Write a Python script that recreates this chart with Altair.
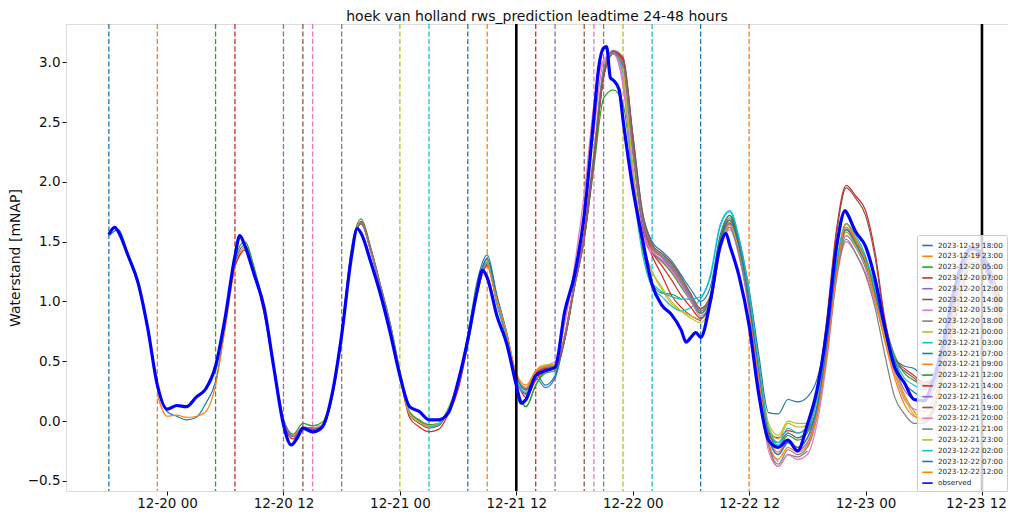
import altair as alt
import pandas as pd

# ---------------- data ----------------
forecast_labels = [
    "2023-12-19 18:00", "2023-12-19 23:00", "2023-12-20 05:00", "2023-12-20 07:00",
    "2023-12-20 12:00", "2023-12-20 14:00", "2023-12-20 15:00", "2023-12-20 18:00",
    "2023-12-21 00:00", "2023-12-21 03:00", "2023-12-21 07:00", "2023-12-21 09:00",
    "2023-12-21 12:00", "2023-12-21 14:00", "2023-12-21 16:00", "2023-12-21 19:00",
    "2023-12-21 20:00", "2023-12-21 21:00", "2023-12-21 23:00", "2023-12-22 02:00",
    "2023-12-22 07:00", "2023-12-22 12:00",
]
# forecast issue times, hours relative to 2023-12-20 00:00
forecast_hours = [-6, -1, 5, 7, 12, 14, 15, 18, 24, 27, 31, 33, 36, 38, 40, 43, 44, 45, 47, 50, 55, 60]

tab10 = ["#1f77b4", "#ff7f0e", "#2ca02c", "#d62728", "#9467bd",
         "#8c564b", "#e377c2", "#7f7f7f", "#bcbd22", "#17becf"]

# hourly predicted water levels, starting at each forecast's issue hour
p00 = [1.55, 1.60, 1.38, 1.14, 0.76, 0.30, 0.08, 0.04, 0.01, 0.03, 0.15, 0.33, 0.80, 1.32, 1.47, 1.25, 0.92, 0.46, 0.00, -0.13, -0.06, -0.07, -0.04, 0.20, 0.72, 1.40, 1.65, 1.42, 1.12, 0.80, 0.40, 0.07, 0.00, -0.04, -0.02, 0.10, 0.32, 0.72, 1.18, 1.39, 1.05, 0.74, 0.36, 0.26, 0.40, 0.30, 0.38, 0.72, 1.15]
p01 = [0.22, 0.04, 0.05, 0.03, 0.04, 0.08, 0.30, 0.78, 1.28, 1.45, 1.25, 0.93, 0.46, 0.01, -0.12, -0.05, -0.06, -0.03, 0.21, 0.73, 1.41, 1.66, 1.43, 1.13, 0.81, 0.41, 0.07, 0.00, -0.04, -0.03, 0.10, 0.30, 0.70, 1.14, 1.35, 1.02, 0.73, 0.38, 0.28, 0.42, 0.46, 0.47, 0.72, 1.15, 1.55, 2.18, 2.88, 3.07, 2.96]
p02 = [0.42, 0.82, 1.35, 1.50, 1.28, 0.95, 0.47, 0.02, -0.11, -0.02, -0.04, -0.01, 0.23, 0.75, 1.44, 1.69, 1.45, 1.14, 0.82, 0.42, 0.08, 0.01, -0.03, -0.02, 0.10, 0.30, 0.68, 1.12, 1.32, 0.98, 0.68, 0.28, 0.12, 0.30, 0.40, 0.42, 0.68, 1.12, 1.52, 2.12, 2.70, 2.77, 2.65, 2.05, 1.45, 1.15, 1.07, 1.06, 1.02]
p03 = [1.30, 1.43, 1.22, 0.90, 0.44, -0.01, -0.15, -0.06, -0.06, -0.04, 0.19, 0.70, 1.40, 1.67, 1.44, 1.13, 0.80, 0.38, 0.03, -0.05, -0.09, -0.07, 0.06, 0.26, 0.64, 1.08, 1.30, 1.00, 0.72, 0.36, 0.20, 0.34, 0.42, 0.44, 0.68, 1.12, 1.52, 2.18, 2.88, 3.09, 3.02, 2.30, 1.62, 1.38, 1.22, 1.05, 0.95, 0.88, 0.84]
p04 = [0.00, -0.13, -0.05, -0.06, -0.03, 0.21, 0.72, 1.40, 1.65, 1.42, 1.12, 0.80, 0.40, 0.06, -0.01, -0.05, -0.03, 0.10, 0.30, 0.68, 1.10, 1.31, 0.98, 0.70, 0.34, 0.22, 0.38, 0.44, 0.45, 0.70, 1.14, 1.55, 2.22, 2.92, 3.08, 2.98, 2.25, 1.65, 1.44, 1.37, 1.28, 1.16, 1.02, 0.90, 1.02, 1.45, 1.64, 1.40, 0.98]
p05 = [-0.05, -0.07, -0.05, 0.19, 0.71, 1.39, 1.65, 1.42, 1.12, 0.79, 0.39, 0.05, -0.02, -0.06, -0.04, 0.09, 0.29, 0.67, 1.09, 1.31, 0.99, 0.71, 0.35, 0.23, 0.37, 0.43, 0.44, 0.69, 1.13, 1.54, 2.20, 2.90, 3.09, 3.02, 2.35, 1.70, 1.46, 1.38, 1.30, 1.18, 1.04, 0.92, 1.04, 1.48, 1.66, 1.42, 0.98, 0.38, -0.14]
p06 = [-0.06, -0.03, 0.22, 0.74, 1.42, 1.66, 1.42, 1.12, 0.80, 0.40, 0.06, -0.01, -0.05, -0.03, 0.11, 0.31, 0.69, 1.11, 1.32, 0.99, 0.71, 0.35, 0.24, 0.40, 0.46, 0.50, 0.82, 1.30, 1.90, 2.65, 3.02, 3.07, 2.80, 2.05, 1.55, 1.40, 1.33, 1.25, 1.14, 1.02, 0.90, 1.00, 1.42, 1.62, 1.38, 0.95, 0.35, -0.20, -0.34]
p07 = [0.72, 1.40, 1.66, 1.43, 1.13, 0.81, 0.41, 0.07, 0.00, -0.04, -0.02, 0.10, 0.30, 0.68, 1.10, 1.33, 1.01, 0.73, 0.37, 0.27, 0.40, 0.45, 0.46, 0.72, 1.16, 1.58, 2.25, 2.95, 3.10, 3.04, 2.38, 1.72, 1.47, 1.40, 1.32, 1.20, 1.06, 0.94, 1.05, 1.50, 1.68, 1.43, 1.00, 0.40, -0.18, -0.38, -0.28, -0.30, -0.25]
p08 = [0.40, 0.06, -0.01, -0.04, -0.02, 0.11, 0.31, 0.69, 1.12, 1.33, 1.00, 0.72, 0.36, 0.26, 0.42, 0.47, 0.47, 0.70, 1.14, 1.55, 2.20, 2.90, 3.08, 2.92, 2.10, 1.50, 1.25, 1.10, 0.98, 0.92, 0.88, 0.85, 1.00, 1.45, 1.66, 1.45, 1.05, 0.50, -0.02, -0.12, 0.00, -0.02, -0.02, 0.22, 0.68, 1.28, 1.58, 1.47, 1.32]
p09 = [-0.05, -0.03, 0.10, 0.30, 0.68, 1.12, 1.33, 1.00, 0.71, 0.35, 0.24, 0.38, 0.44, 0.45, 0.70, 1.14, 1.55, 2.22, 2.92, 3.08, 2.90, 2.00, 1.40, 1.12, 1.04, 0.96, 0.92, 0.95, 1.02, 1.20, 1.62, 1.75, 1.50, 1.05, 0.45, -0.08, -0.20, -0.10, -0.14, -0.08, 0.18, 0.68, 1.30, 1.62, 1.52, 1.36, 1.08, 0.78, 0.50]
p10 = [0.68, 1.12, 1.36, 1.04, 0.74, 0.38, 0.26, 0.36, 0.28, 0.36, 0.70, 1.14, 1.55, 2.18, 2.88, 3.07, 3.00, 2.40, 1.75, 1.50, 1.42, 1.34, 1.22, 1.10, 1.00, 1.12, 1.55, 1.72, 1.50, 1.10, 0.55, 0.07, 0.06, 0.18, 0.16, 0.20, 0.35, 0.72, 1.30, 1.60, 1.50, 1.36, 1.12, 0.82, 0.52, 0.46, 0.44, 0.38, 0.40]
p11 = [1.33, 1.02, 0.74, 0.40, 0.30, 0.42, 0.46, 0.47, 0.72, 1.16, 1.56, 2.20, 2.90, 3.08, 3.00, 2.30, 1.68, 1.45, 1.38, 1.30, 1.18, 1.05, 0.94, 1.05, 1.50, 1.68, 1.44, 1.00, 0.42, -0.12, -0.26, -0.16, -0.22, -0.15, 0.10, 0.58, 1.22, 1.62, 1.50, 1.30, 1.00, 0.70, 0.42, 0.22, 0.08, 0.00, 0.10, 0.40, 0.80]
p12 = [0.30, 0.12, 0.30, 0.42, 0.45, 0.70, 1.13, 1.54, 2.18, 2.88, 3.07, 2.98, 2.28, 1.66, 1.42, 1.34, 1.24, 1.12, 1.00, 0.90, 1.05, 1.52, 1.72, 1.46, 1.02, 0.44, -0.08, -0.22, -0.12, -0.16, -0.10, 0.12, 0.62, 1.28, 1.65, 1.52, 1.35, 1.08, 0.80, 0.55, 0.40, 0.34, 0.30, 0.36, 0.62, 1.00, 1.30, 1.44, 1.40]
p13 = [0.40, 0.44, 0.45, 0.70, 1.14, 1.54, 2.18, 2.88, 3.08, 3.02, 2.35, 1.70, 1.42, 1.30, 1.18, 1.05, 0.95, 0.86, 0.98, 1.45, 1.65, 1.42, 1.00, 0.40, -0.10, -0.14, -0.08, -0.10, -0.05, 0.25, 0.85, 1.60, 1.97, 1.88, 1.76, 1.40, 0.85, 0.52, 0.44, 0.38, 0.32, 0.36, 0.60, 0.98, 1.30, 1.45, 1.42, 1.24, 1.00]
p14 = [0.45, 0.70, 1.15, 1.55, 2.20, 2.90, 3.08, 2.96, 2.25, 1.65, 1.42, 1.35, 1.27, 1.15, 1.02, 0.92, 1.04, 1.48, 1.64, 1.40, 0.98, 0.40, -0.13, -0.28, -0.18, -0.24, -0.18, 0.08, 0.58, 1.22, 1.55, 1.45, 1.28, 1.02, 0.72, 0.45, 0.26, 0.18, 0.16, 0.26, 0.52, 0.90, 1.24, 1.40, 1.37, 1.16, 0.88]
p15 = [1.55, 2.20, 2.90, 3.09, 3.04, 2.40, 1.75, 1.48, 1.40, 1.32, 1.20, 1.06, 0.94, 1.04, 1.50, 1.70, 1.45, 1.02, 0.42, -0.12, -0.18, -0.10, -0.14, -0.08, 0.22, 0.82, 1.56, 1.95, 1.86, 1.72, 1.36, 0.82, 0.50, 0.42, 0.36, 0.30, 0.34, 0.58, 0.95, 1.28, 1.44, 1.41, 1.22, 0.98]
p16 = [2.40, 3.00, 3.07, 2.85, 2.10, 1.58, 1.42, 1.35, 1.26, 1.14, 1.00, 0.88, 0.98, 1.42, 1.60, 1.36, 0.92, 0.32, -0.25, -0.38, -0.28, -0.32, -0.28, -0.02, 0.50, 1.18, 1.50, 1.40, 1.24, 0.98, 0.68, 0.40, 0.18, 0.10, 0.08, 0.18, 0.46, 0.84, 1.18, 1.36, 1.33, 1.12, 0.85]
p17 = [2.95, 3.08, 2.98, 2.30, 1.70, 1.46, 1.38, 1.30, 1.18, 1.04, 0.92, 1.02, 1.46, 1.62, 1.38, 0.95, 0.36, -0.20, -0.36, -0.24, -0.28, -0.22, 0.04, 0.55, 1.20, 1.52, 1.40, 1.22, 0.94, 0.55, 0.20, 0.06, -0.02, -0.02, 0.08, 0.36, 0.76, 1.10, 1.33, 1.30, 1.08, 0.80]
p18 = [2.95, 2.15, 1.52, 1.25, 1.12, 1.00, 0.92, 0.86, 0.82, 0.98, 1.44, 1.64, 1.42, 1.02, 0.46, -0.05, -0.15, -0.02, -0.05, -0.04, 0.18, 0.64, 1.26, 1.58, 1.46, 1.30, 1.02, 0.70, 0.42, 0.20, 0.05, 0.00, 0.10, 0.40, 0.80, 1.14, 1.36, 1.34, 1.12, 0.85]
p19 = [1.15, 1.08, 1.04, 1.02, 1.02, 1.04, 1.22, 1.64, 1.76, 1.52, 1.08, 0.48, -0.06, -0.18, -0.06, -0.10, -0.05, 0.20, 0.70, 1.32, 1.65, 1.55, 1.38, 1.10, 0.78, 0.52, 0.36, 0.30, 0.26, 0.32, 0.58, 0.96, 1.28, 1.43, 1.40, 1.18, 0.92]
p20 = [0.85, 1.00, 1.48, 1.68, 1.44, 1.00, 0.40, -0.14, -0.28, -0.18, -0.22, -0.14, 0.12, 0.62, 1.26, 1.60, 1.48, 1.32, 1.05, 0.76, 0.50, 0.32, 0.24, 0.20, 0.30, 0.56, 0.94, 1.26, 1.43, 1.40, 1.18, 0.90]
p21 = [0.90, 0.36, -0.18, -0.32, -0.22, -0.26, -0.20, 0.05, 0.55, 1.22, 1.65, 1.52, 1.34, 1.02, 0.66, 0.36, 0.14, 0.04, 0.02, 0.12, 0.42, 0.82, 1.16, 1.38, 1.36, 1.14, 0.86]

prediction_values = [p00, p01, p02, p03, p04, p05, p06, p07, p08, p09, p10,
                     p11, p12, p13, p14, p15, p16, p17, p18, p19, p20, p21]

# observed water level (hours relative to 2023-12-20 00:00)
obs_hours = [-6, -5.4, -5, -4, -3, -2, -1, 0, 1, 2, 3, 4, 5, 6, 7, 7.5, 8, 9, 10, 11, 12, 12.8, 13.5, 14, 15, 16,
             17, 18, 19, 19.6, 20, 21, 22, 23, 24, 25, 26, 27, 28, 29, 30, 31, 32, 32.5, 33, 34, 35, 36, 36.5,
             37, 38, 39, 40, 41, 42, 43, 44, 44.5, 45, 45.3, 45.7, 46, 46.6, 47, 48, 49, 50, 51, 52, 53, 53.5,
             54, 54.5, 55, 56, 57, 57.6, 58, 59, 60, 61, 62, 63, 64, 65, 66, 67, 68, 69, 69.9, 70, 71, 72, 73,
             74, 75, 76, 77, 78, 79, 80, 81, 82, 83, 84, 85]
obs_values = [1.56, 1.62, 1.58, 1.38, 1.16, 0.78, 0.30, 0.10, 0.13, 0.12, 0.20, 0.27, 0.46, 0.87, 1.38, 1.55, 1.47,
              1.22, 0.95, 0.45, -0.03, -0.20, -0.13, -0.06, -0.09, -0.05, 0.22, 0.72, 1.37, 1.61, 1.57, 1.33,
              1.06, 0.74, 0.38, 0.12, 0.08, 0.01, 0.01, 0.07, 0.33, 0.68, 1.10, 1.26, 1.20, 0.88, 0.65, 0.30,
              0.15, 0.18, 0.38, 0.42, 0.45, 0.92, 1.22, 1.72, 2.54, 2.96, 3.12, 3.13, 2.87, 2.85, 2.77, 2.52,
              1.95, 1.52, 1.14, 0.97, 0.89, 0.76, 0.66, 0.70, 0.74, 0.70, 1.00, 1.46, 1.57, 1.47, 1.20, 0.80,
              0.22, -0.16, -0.22, -0.16, -0.25, -0.03, 0.26, 0.76, 1.45, 1.76, 1.75, 1.58, 1.46, 1.18, 0.78,
              0.45, 0.32, 0.18, 0.17, 0.35, 0.65, 1.05, 1.34, 1.45, 1.38, 1.15]

marker_hours = [36, 84]  # solid black reference lines

y_ticks = [-0.5, 0.0, 0.5, 1.0, 1.5, 2.0, 2.5, 3.0]

# ---------------- frames ----------------
base = pd.Timestamp("2023-12-20 00:00")


def to_time(h):
    return base + pd.to_timedelta(h, unit="h")


rows = []
for label, start, vals in zip(forecast_labels, forecast_hours, prediction_values):
    for i, v in enumerate(vals):
        rows.append({"t": to_time(start + i), "value": v, "series": label})
pred_df = pd.DataFrame(rows)

obs_df = pd.DataFrame({"t": [to_time(h) for h in obs_hours], "value": obs_values, "series": "observed"})
rule_df = pd.DataFrame({"t": [to_time(h) for h in forecast_hours], "series": forecast_labels})
black_df = pd.DataFrame({"t": [to_time(h) for h in marker_hours]})

colors = [tab10[i % 10] for i in range(len(forecast_labels))]
domain = forecast_labels + ["observed"]
rng = colors + ["#0000ff"]

FONT = "DejaVu Sans"

legend = alt.Legend(
    title=None, orient="none", legendX=851, legendY=211,
    labelFontSize=7.2, labelFont=FONT, labelColor="#222222", labelLimit=300,
    symbolType="stroke", symbolSize=110, symbolStrokeWidth=1.6,
    fillColor="rgba(255,255,255,0.8)", strokeColor="#cccccc", cornerRadius=2,
    padding=4, rowPadding=0.8, symbolLimit=50,
)

color_enc = alt.Color("series:N", scale=alt.Scale(domain=domain, range=rng), legend=legend)

tick_vals = [alt.DateTime(year=2023, month=12, date=d, hours=hh)
             for d in [20, 21, 22, 23] for hh in [0, 12]]

x_enc = alt.X(
    "t:T",
    scale=alt.Scale(domain=[alt.DateTime(year=2023, month=12, date=19, hours=13, minutes=35),
                            alt.DateTime(year=2023, month=12, date=23, hours=14, minutes=41)]),
    axis=alt.Axis(values=tick_vals, format="%m-%d %H", title=None, grid=False,
                  labelFontSize=13.5, labelFont=FONT, labelColor="#111111",
                  labelOffset={"condition": {"test": "datum.value > datetime(2023, 11, 23, 6)", "value": -6},
                               "value": 0},
                  tickSize=4, tickColor="#111111", domain=False, labelPadding=1),
)

y_enc = alt.Y(
    "value:Q",
    scale=alt.Scale(domain=[-0.585, 3.32], nice=False, zero=False),
    axis=alt.Axis(values=y_ticks, format=".1f", title="Waterstand [mNAP]", grid=False,
                  labelFontSize=13.5, labelFont=FONT, labelColor="#111111",
                  labelExpr="replace(datum.label, '-', '\u2212')",
                  titleFontSize=14, titleFont=FONT, titleFontWeight="normal", titleColor="#111111",
                  titlePadding=5, tickSize=4, tickColor="#111111", domain=False, labelPadding=2),
)

rules = alt.Chart(rule_df).mark_rule(strokeDash=[5, 2.5], strokeWidth=1.3).encode(
    x=x_enc, color=color_enc
)

preds = alt.Chart(pred_df).mark_line(strokeWidth=1.2, interpolate="monotone", clip=True).encode(
    x=x_enc, y=y_enc, color=color_enc, detail="series:N"
)

black = alt.Chart(black_df).mark_rule(color="black", strokeWidth=2.6).encode(x=x_enc)

obs = alt.Chart(obs_df).mark_line(strokeWidth=3.2, interpolate="monotone", clip=True).encode(
    x=x_enc, y=y_enc, color=color_enc
)

chart = alt.layer(rules, preds, black, obs).properties(
    width=942, height=467,
    autosize=alt.AutoSizeParams(type="none"),
    padding={"left": 58, "top": 16, "right": 0, "bottom": 21},
    title=alt.TitleParams("hoek van holland rws_prediction leadtime 24-48 hours",
                          fontSize=14, fontWeight="normal", font=FONT, color="#111111",
                          anchor="middle", offset=4, dy=5),
).configure_view(stroke="#333333", strokeWidth=1).configure(background="white")

chart.save("out.html", embed_options={"renderer": "svg", "actions": False})
